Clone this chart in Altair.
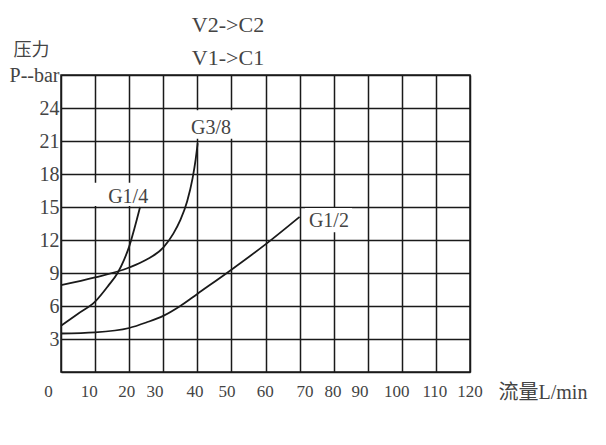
import altair as alt
import pandas as pd

# ---- data ----
g14_flow = [0, 5, 10, 14, 16.6, 18.5, 20, 21.5, 23.2]
g14_pres = [4.2, 5.3, 6.4, 7.9, 9.0, 10.2, 11.4, 13.0, 15.0]

g38_flow = [0, 10, 20, 25, 30, 33, 35, 37, 38.6, 39.5, 40.1]
g38_pres = [7.9, 8.6, 9.5, 10.2, 11.3, 12.6, 13.8, 15.5, 17.6, 19.3, 20.8]

g12_flow = [0, 10, 20, 25, 30, 35, 40, 50, 60, 70]
g12_pres = [3.5, 3.6, 4.0, 4.5, 5.1, 6.0, 7.1, 9.3, 11.6, 14.1]

curve_names = ["G1/4", "G3/8", "G1/2"]
label_flow = [19.7, 44.0, 78.6]
label_pres = [15.9, 22.2, 13.7]

# white boxes behind the curve labels (flow / pressure extents)
mask_flow0 = [8.5, 36.4, 71.6]
mask_flow1 = [26.7, 51.0, 85.4]
mask_pres0 = [15.1, 21.2, 12.7]
mask_pres1 = [17.2, 23.8, 14.9]

title_top = "V2->C2"
title_bottom = "V1->C1"

y_grid = [0, 3, 6, 9, 12, 15, 18, 21, 24, 27]
x_grid = [0, 10, 20, 30, 40, 50, 60, 70, 80, 90, 100, 110, 120]
x_tick_labels = ["0", "10", "20", "30", "40", "50", "60", "70", "80", "90", "100", "110", "120"]
x_tick_label_at = [-3.7, 8.3, 19.3, 27.6, 39.3, 48.7, 59.9, 71.6, 79.8, 87.7, 98.5, 109.7, 120.0]

W, H = 409, 297
FONT = "Liberation Serif, 'Noto Sans CJK SC'"
TXT = "#444444"
INK = "#1a1a1a"

rows = []
for name, fx, py in [("G1/4", g14_flow, g14_pres), ("G3/8", g38_flow, g38_pres), ("G1/2", g12_flow, g12_pres)]:
    for a, b in zip(fx, py):
        rows.append({"curve": name, "flow": a, "pres": b})
curves = pd.DataFrame(rows)

labels = pd.DataFrame({"curve": curve_names, "flow": label_flow, "pres": label_pres,
                       "f0": mask_flow0, "f1": mask_flow1, "p0": mask_pres0, "p1": mask_pres1})
xlabels = pd.DataFrame({"txt": x_tick_labels, "at": x_tick_label_at})

xs = alt.Scale(domain=[0, 120], nice=False, zero=False)
ys = alt.Scale(domain=[0, 27], nice=False, zero=False)

x_axis = alt.Axis(values=x_grid, labels=False, ticks=False, domain=False, grid=True,
                  gridColor=INK, gridWidth=1.5, gridOpacity=1, zindex=0,
                  title="流量L/min", titleX=437, titleY=20, titleAlign="left",
                  titleBaseline="middle", titleFont=FONT, titleFontSize=20,
                  titleFontWeight="normal", titleColor=TXT, titleAngle=0)
y_axis = alt.Axis(values=y_grid, ticks=False, domain=False, grid=True,
                  gridColor=INK, gridWidth=1.5, gridOpacity=1, zindex=0,
                  labelOverlap=False, labelBound=False, labelFlush=False,
                  labelExpr="datum.value == 0 ? '' : (datum.value == 27 ? 'P--bar' : datum.label)",
                  labelFont=FONT, labelFontSize=20, labelColor=TXT, labelPadding=2,
                  labelBaseline="middle",
                  title="压力", titleAngle=0, titleX=-30, titleY=-25, titleAlign="center",
                  titleBaseline="middle", titleFont=FONT, titleFontSize=18,
                  titleFontWeight="normal", titleColor=TXT)

masks = alt.Chart(labels).mark_rect(color="white").encode(
    x=alt.X("f0:Q", scale=xs, axis=x_axis), x2="f1:Q",
    y=alt.Y("p0:Q", scale=ys, axis=y_axis), y2="p1:Q",
)

lines = alt.Chart(curves).mark_line(color=INK, strokeWidth=1.8, interpolate="monotone").encode(
    x=alt.X("flow:Q", scale=xs, axis=x_axis),
    y=alt.Y("pres:Q", scale=ys, axis=y_axis),
    detail="curve:N",
)

ltext = alt.Chart(labels).mark_text(font=FONT, fontSize=20, color=TXT, baseline="middle", align="center").encode(
    x=alt.X("flow:Q", scale=xs, axis=x_axis), y=alt.Y("pres:Q", scale=ys, axis=y_axis), text="curve:N"
)

xt = alt.Chart(xlabels).mark_text(font=FONT, fontSize=17, color=TXT, baseline="middle", align="center").encode(
    x=alt.X("at:Q", scale=xs, axis=x_axis), y=alt.value(H + 20), text="txt:N"
)

t1 = alt.Chart(pd.DataFrame({"t": [title_top]})).mark_text(
    font=FONT, fontSize=22, color=TXT, baseline="middle", align="center").encode(
    x=alt.value(167), y=alt.value(-50), text="t:N")
t2 = alt.Chart(pd.DataFrame({"t": [title_bottom]})).mark_text(
    font=FONT, fontSize=22, color=TXT, baseline="middle", align="center").encode(
    x=alt.value(167), y=alt.value(-17), text="t:N")

chart = alt.layer(masks, lines, ltext, xt, t1, t2).properties(
    width=W, height=H,
    autosize=alt.AutoSizeParams(type="none"),
    padding={"left": 53, "top": 67, "right": 128, "bottom": 50},
).configure_view(stroke=INK, strokeWidth=1.5)

chart.save("out.html", embed_options={"renderer": "svg", "actions": False})
